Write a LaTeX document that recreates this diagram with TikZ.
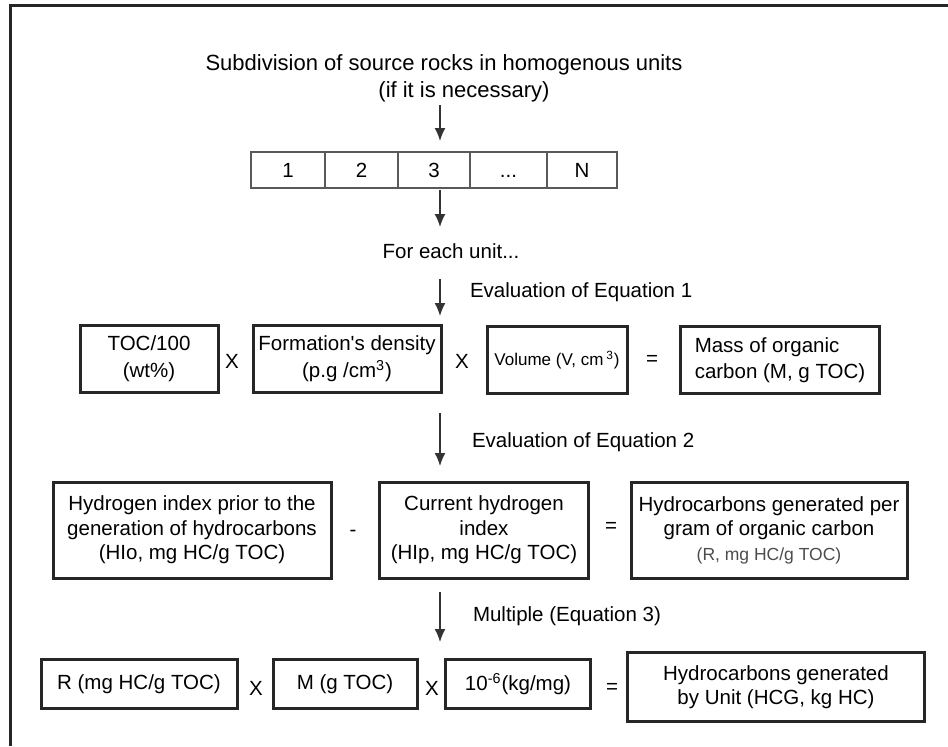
\documentclass[tikz,border=0pt]{standalone}
\usepackage{fontspec}
\setmainfont{Liberation Sans}
\usetikzlibrary{arrows.meta, positioning}

\begin{document}
\begin{tikzpicture}[x=0.5pt, y=-0.5pt,
  every node/.style={font=\fontsize{10.25}{12.25}\selectfont, inner sep=0pt, outer sep=0pt},
  box/.style={draw=black!85, line width=1.5pt, rectangle, align=center},
  cell/.style={draw=black!65, line width=0.6pt, rectangle, minimum height=18pt, text height=7.4pt, text depth=0pt},
  link/.style={draw=black!80, line width=0.8pt, -{Latex[length=6.5pt, width=5.5pt]}}]

\useasboundingbox (0,0) rectangle (948,746);
\draw [black!85, line width=1.5pt] (10,746) -- (10,5) -- (948,5);

% subdivision of the source rocks
\node [font=\fontsize{11}{13.5}\selectfont] (title)  at (444,65) {Subdivision of source rocks in homogenous units};
\node [font=\fontsize{11}{13.5}\selectfont] (titleb) at (464,92) {(if it is necessary)};

\node [cell, minimum width=37pt  , anchor=west] (c1) at (251,170) {1};
\node [cell, minimum width=36.5pt, right=0pt of c1] (c2) {2};
\node [cell, minimum width=36pt  , right=0pt of c2] (c3) {3};
\node [cell, minimum width=38.5pt, right=0pt of c3] (c4) {...};
\node [cell, minimum width=35pt  , right=0pt of c4] (c5) {N};

\node (each) at (451,251) {For each unit...};

% equation 1
\node [box, minimum width=69pt  , minimum height=33.5pt, font=\fontsize{10.25}{13.5}\selectfont] (toc)  at (149,359) {TOC/100\\(wt\%)};
\node                                                                                             (x1)   at (232,361) {X};
\node [box, minimum width=94pt  , minimum height=33.5pt, font=\fontsize{10.25}{13.5}\selectfont] (dens) at (347,359) {Formation\textquotesingle s density\\(p.g /cm\textsuperscript{3})};
\node                                                                                             (x2)   at (462,361) {X};
\node [box, minimum width=70pt  , minimum height=33.5pt, font=\fontsize{8.5}{10}\selectfont]     (vol)  at (557,360) {Volume (V, cm\,\textsuperscript{3})};
\node                                                                                             (eq1)  at (652,360) {=};
\node [box, minimum width=99.5pt, minimum height=33.5pt, align=left, font=\fontsize{10.25}{13}\selectfont] (mass) at (780,360) {Mass of organic\\carbon (M, g TOC)};

% equation 2
\node [box, minimum width=139pt  , minimum height=48pt] (hio)  at (192,530) {Hydrogen index prior to the\\generation of hydrocarbons\\(HIo, mg HC/g TOC)};
\node                                                   (minus) at (353,533) {-};
\node [box, minimum width=104.5pt, minimum height=48pt] (hip)  at (484,530) {Current hydrogen\\index\\(HIp, mg HC/g TOC)};
\node                                                   (eq2)  at (611,527) {=};
\node [box, minimum width=138pt  , minimum height=48pt] (rgen) at (769,530) {Hydrocarbons generated per\\gram of organic carbon\\{\color{black!70}\fontsize{8.75}{12}\selectfont (R, mg HC/g TOC)}};

% equation 3
\node [box, minimum width=98pt   , minimum height=24.5pt] (rr)  at (139,684) {R (mg HC/g TOC)};
\node                                                     (x3)  at (256,688) {X};
\node [box, minimum width=72pt   , minimum height=24.5pt] (mm)  at (345,684) {M (g TOC)};
\node                                                     (x4)  at (432,688) {X};
\node [box, minimum width=72.5pt , minimum height=24.5pt] (ten) at (518,684) {10\textsuperscript{-6}(kg/mg)};
\node                                                     (eq3) at (612,688) {=};
\node [box, minimum width=148.5pt, minimum height=34.5pt] (hcg) at (776,687) {Hydrocarbons generated\\by Unit (HCG, kg HC)};

% step labels
\node [anchor=west] (ev1) at (470,292) {Evaluation of Equation 1};
\node [anchor=west] (ev2) at (472,442) {Evaluation of Equation 2};
\node [anchor=west] (ev3) at (473,616) {Multiple (Equation 3)};

% arrow ends
\coordinate (a1s) at (440,105); \coordinate (a1e) at (440,141);
\coordinate (a2s) at (440,190); \coordinate (a2e) at (440,227);
\coordinate (a3s) at (440,279); \coordinate (a3e) at (440,316);
\coordinate (a4s) at (440,413); \coordinate (a4e) at (440,466);
\coordinate (a5s) at (440,592); \coordinate (a5e) at (440,642);

\draw [link] (a1s) -- (a1e);
\draw [link] (a2s) -- (a2e);
\draw [link] (a3s) -- (a3e);
\draw [link] (a4s) -- (a4e);
\draw [link] (a5s) -- (a5e);

\end{tikzpicture}
\end{document}
